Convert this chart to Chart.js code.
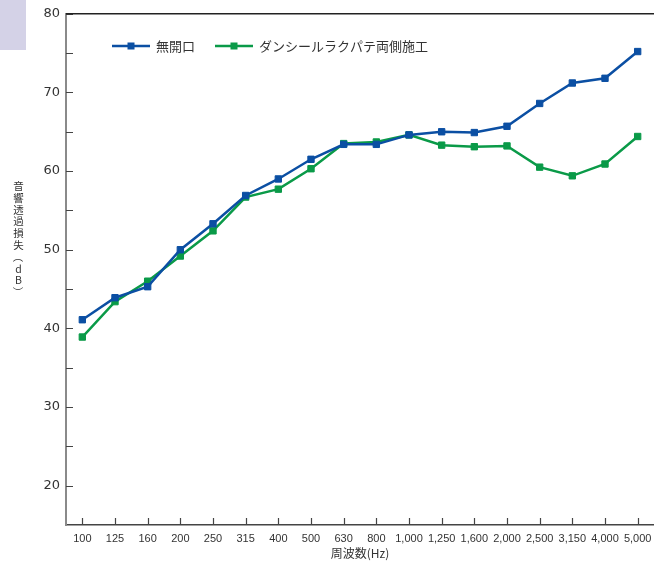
<!DOCTYPE html>
<html>
<head>
<meta charset="utf-8">
<script src="https://cdn.jsdelivr.net/npm/chart.js@4/dist/chart.umd.min.js"></script>
<style>
  html, body { margin: 0; padding: 0; background: #fff; }
  #wrap { position: relative; width: 654px; height: 565px; overflow: hidden; }
  #c { position: absolute; left: 0; top: 0; }
  #corner { position: absolute; left: 0; top: 0; width: 26px; height: 50px; background: #d4d2e7; }
  #ytitle { position: absolute; left: 12px; top: 180px; width: 13px;
            font-family: "Noto Sans CJK JP", sans-serif; font-size: 10.5px; color: #333; }
  #ytitle span { display: block; width: 13px; height: 11.8px; line-height: 11.8px; text-align: center; }
  #ytitle span.rot { transform: rotate(90deg); }
</style>
</head>
<body>
<div id="wrap">
  <canvas id="c" width="654" height="565"></canvas>
  <div id="corner"></div>
  <div id="ytitle"></div>
</div>
<script>
// ---- data ----
const categories = ['100','125','160','200','250','315','400','500','630','800','1,000','1,250','1,600','2,000','2,500','3,150','4,000','5,000'];
const seriesNames = ['無開口', 'ダンシールラクパテ両側施工'];
const noOpening = [41.1, 43.9, 45.3, 50.0, 53.3, 56.9, 59.0, 61.5, 63.4, 63.4, 64.6, 65.0, 64.9, 65.7, 68.6, 71.2, 71.8, 75.2];
const sealedBoth = [38.9, 43.4, 46.0, 49.2, 52.4, 56.7, 57.7, 60.3, 63.5, 63.7, 64.6, 63.3, 63.1, 63.2, 60.5, 59.4, 60.9, 64.4];
const yMin = 15, yMax = 80, yStep = 5, yLabelEvery = 10;
const xTitle = '周波数(Hz)';
const yTitle = '音響透過損失（dB）';

// vertical (upright) y-axis title as real text, one character per line
(function () {
  const el = document.getElementById('ytitle');
  for (const ch of yTitle) {
    const s = document.createElement('span');
    s.textContent = ch;
    if (ch === '（' || ch === '）') s.className = 'rot';
    el.appendChild(s);
  }
})();

const BLUE = '#0b4fa3';
const GREEN = '#0a9a48';

const frame = {
  id: 'frame',
  beforeDatasetsDraw(chart) {
    const ctx = chart.ctx, a = chart.chartArea, xs = chart.scales.x, ys = chart.scales.y;
    ctx.save();
    ctx.strokeStyle = '#444';
    ctx.lineWidth = 1.2;
    ctx.beginPath();
    ys.ticks.forEach(t => {
      if (t.value === ys.min) return;
      const py = Math.round(ys.getPixelForValue(t.value)) + 0.5;
      ctx.moveTo(a.left, py); ctx.lineTo(a.left + 7, py);
    });
    xs.ticks.forEach((t, i) => {
      const px = Math.round(xs.getPixelForTick(i)) + 0.5;
      ctx.moveTo(px, a.bottom); ctx.lineTo(px, a.bottom - 7);
    });
    ctx.stroke();
    ctx.strokeStyle = '#222';
    ctx.lineWidth = 1.5;
    ctx.beginPath();
    ctx.moveTo(a.left, a.top); ctx.lineTo(chart.width, a.top);
    ctx.stroke();
    ctx.restore();
  },
  afterDatasetsDraw(chart) {
    const ctx = chart.ctx;
    ctx.save();
    ctx.font = '13px "Noto Sans CJK JP", sans-serif';
    ctx.textBaseline = 'middle';
    let x = 112;
    const y = 46;
    chart.data.datasets.forEach(ds => {
      ctx.strokeStyle = ds.borderColor;
      ctx.lineWidth = 2.5;
      ctx.beginPath(); ctx.moveTo(x, y); ctx.lineTo(x + 38, y); ctx.stroke();
      ctx.fillStyle = ds.borderColor;
      ctx.fillRect(x + 19 - 3.5, y - 3.5, 7, 7);
      ctx.fillStyle = '#333';
      ctx.fillText(ds.label, x + 44, y + 0.5);
      x = x + 44 + ctx.measureText(ds.label).width + 20;
    });
    ctx.restore();
  }
};

new Chart(document.getElementById('c'), {
  type: 'line',
  data: {
    labels: categories,
    datasets: [
      { label: seriesNames[0], data: noOpening, borderColor: BLUE, backgroundColor: BLUE,
        borderWidth: 2.5, pointStyle: 'rect', pointRadius: 4.5, pointBorderWidth: 1, tension: 0 },
      { label: seriesNames[1], data: sealedBoth, borderColor: GREEN, backgroundColor: GREEN,
        borderWidth: 2.5, pointStyle: 'rect', pointRadius: 4.5, pointBorderWidth: 1, tension: 0 }
    ]
  },
  options: {
    responsive: false,
    devicePixelRatio: 1,
    animation: false,
    layout: { autoPadding: false, padding: { top: 12, left: 0, right: 0, bottom: 0 } },
    plugins: { legend: { display: false }, tooltip: { enabled: false } },
    scales: {
      x: {
        offset: true,
        grid: { display: false, drawTicks: false },
        border: { display: true, color: '#444', width: 1.5 },
        ticks: { autoSkip: false, maxRotation: 0, padding: 7, color: '#333',
                 font: { family: '"Liberation Sans", Arial, sans-serif', size: 11 } },
        title: { display: true, text: xTitle, color: '#333', padding: { top: 0, bottom: 4 },
                 font: { family: '"Noto Sans CJK JP", sans-serif', size: 12 } },
        afterFit(s) { s.height = 40; s.paddingLeft = 0; s.paddingRight = 0; }
      },
      y: {
        min: yMin, max: yMax,
        grid: { display: false, drawTicks: false },
        border: { display: true, color: '#8a8a8a', width: 2 },
        ticks: { stepSize: yStep, padding: 6, color: '#333',
                 font: { family: '"DejaVu Sans", sans-serif', size: 13 },
                 callback: v => (v % yLabelEvery === 0 ? String(v) : '') },
        afterFit(s) { s.width = 66; }
      }
    }
  },
  plugins: [frame]
});
</script>
</body>
</html>
